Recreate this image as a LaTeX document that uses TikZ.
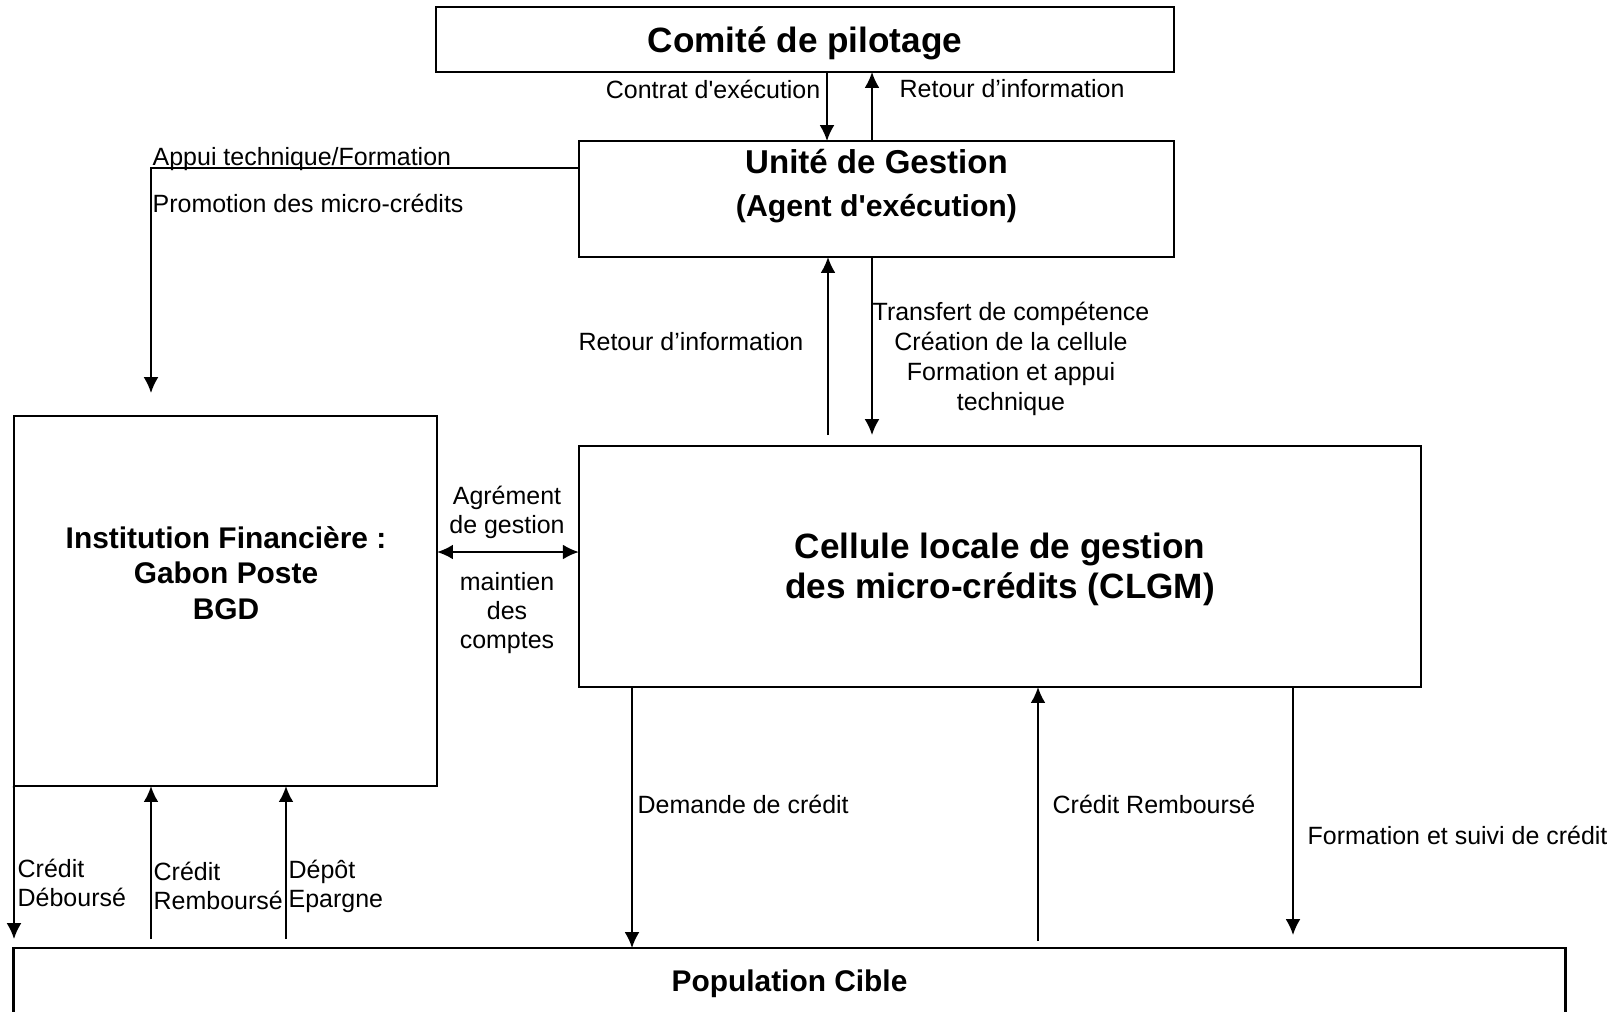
\documentclass[tikz,border=0pt]{standalone}
\usepackage{fontspec}
\setmainfont{Liberation Sans}
\usetikzlibrary{arrows.meta}

\begin{document}
\begin{tikzpicture}[x = 0.01cm, y = -0.01cm, > = {Latex[length = 4.5pt, width = 4.2pt]},
	box/.style = {draw, line width = 0.6pt, inner sep = 0pt, outer sep = 0pt},
	title/.style = {font = \bfseries\fontsize{10}{11.4}\selectfont, align = center},
	lbl/.style = {font = \fontsize{7.1}{8.2}\selectfont, inner sep = 0pt},
	flow/.style = {->, line width = 0.5pt}]

% Frame

\clip (0, 0) rectangle (1618, 1011);

% Boxes

\node [box, minimum width = 7.38cm, minimum height = 0.65cm] (comite) at (805, 39.5) {};
\node [box, minimum width = 5.95cm, minimum height = 1.16cm] (unite) at (876.5, 199) {};
\node [box, minimum width = 4.23cm, minimum height = 3.70cm] (inst) at (225.5, 601) {};
\node [box, minimum width = 8.42cm, minimum height = 2.41cm] (clgm) at (1000, 566.5) {};
\node [box, minimum width = 15.51cm, minimum height = 0.68cm] (popul) at (789.5, 982) {};

% Box texts

\node [title] (comitetxt) at (805, 43) {Comité de pilotage};
\node [title, font = \bfseries\fontsize{9.4}{12}\selectfont] (unitetxt) at (876.5, 186) {Unité de Gestion\\{\fontsize{8.6}{12}\selectfont (Agent d\textquotesingle exécution)}};
\node [title, font = \bfseries\fontsize{8.5}{10}\selectfont] (insttxt) at (226, 573) {Institution Financière :\\Gabon Poste\\BGD};
\node [title] (clgmtxt) at (1000, 569.5) {Cellule locale de gestion\\des micro-crédits (CLGM)};
\node [title, font = \bfseries\fontsize{8.5}{10}\selectfont] (popultxt) at (789.5, 984) {Population Cible};

% Connector columns and free ends

\coordinate (c1) at (827, 0);
\coordinate (c2) at (872, 0);
\coordinate (c3) at (828, 435);
\coordinate (c4) at (872, 435);
\coordinate (row) at (0, 168);
\coordinate (appui) at (151, 393);
\coordinate (d1) at (14, 939);
\coordinate (d2) at (151, 939);
\coordinate (d3) at (286, 939);
\coordinate (e1) at (632, 0);
\coordinate (e2) at (1038, 941);
\coordinate (e3) at (1293, 935);

% Top connectors

\draw [flow] (comite.south -| c1) -- (unite.north -| c1);
\draw [flow] (unite.north -| c2) -- (comite.south -| c2);
\draw [flow] (unite.west |- row) -| (appui);

% Middle connectors

\draw [flow] (c3) -- (unite.south -| c3);
\draw [flow] (unite.south -| c4) -- (c4);
\draw [<->, line width = 0.5pt] (inst.east |- 0, 552) -- (clgm.west |- 0, 552);

% Bottom connectors

\draw [flow] (inst.south west) -- (d1);
\draw [flow] (d2) -- (inst.south -| d2);
\draw [flow] (d3) -- (inst.south -| d3);
\draw [flow] (clgm.south -| e1) -- (popul.north -| e1);
\draw [flow] (e2) -- (clgm.south -| e2);
\draw [flow] (clgm.south -| e3) -- (e3);

% Labels

\node [lbl, anchor = east] (contrattxt) at (821, 89) {Contrat d\textquotesingle exécution};
\node [lbl, anchor = west] (retourtxt) at (899, 89) {Retour d’information};
\node [lbl, anchor = west] (appuitxt) at (152, 159) {Appui technique/Formation};
\node [lbl, anchor = west] (promotxt) at (152, 203) {Promotion des micro-crédits};
\node [lbl] (retourbas) at (691, 342) {Retour d’information};
\node [lbl, align = center, font = \fontsize{7.1}{8.5}\selectfont] (transferttxt) at (1011, 359) {Transfert de compétence\\Création de la cellule\\Formation et appui\\technique};
\node [lbl, align = center] (agrementtxt) at (507, 512.5) {Agrément\\de gestion};
\node [lbl, align = center] (maintientxt) at (507, 613) {maintien\\des\\comptes};
\node [lbl, anchor = west, align = left] (debourstxt) at (17, 883) {Crédit\\Déboursé};
\node [lbl, anchor = west, align = left] (rembourstxt) at (153, 886) {Crédit\\Remboursé};
\node [lbl, anchor = west, align = left] (depottxt) at (288, 886) {Dépôt\\Epargne};
\node [lbl, anchor = west] (demandetxt) at (637, 804) {Demande de crédit};
\node [lbl, anchor = west] (rembclgmtxt) at (1052, 804) {Crédit Remboursé};
\node [lbl, anchor = west] (suivitxt) at (1307, 835) {Formation et suivi de crédit};

\end{tikzpicture}
\end{document}
